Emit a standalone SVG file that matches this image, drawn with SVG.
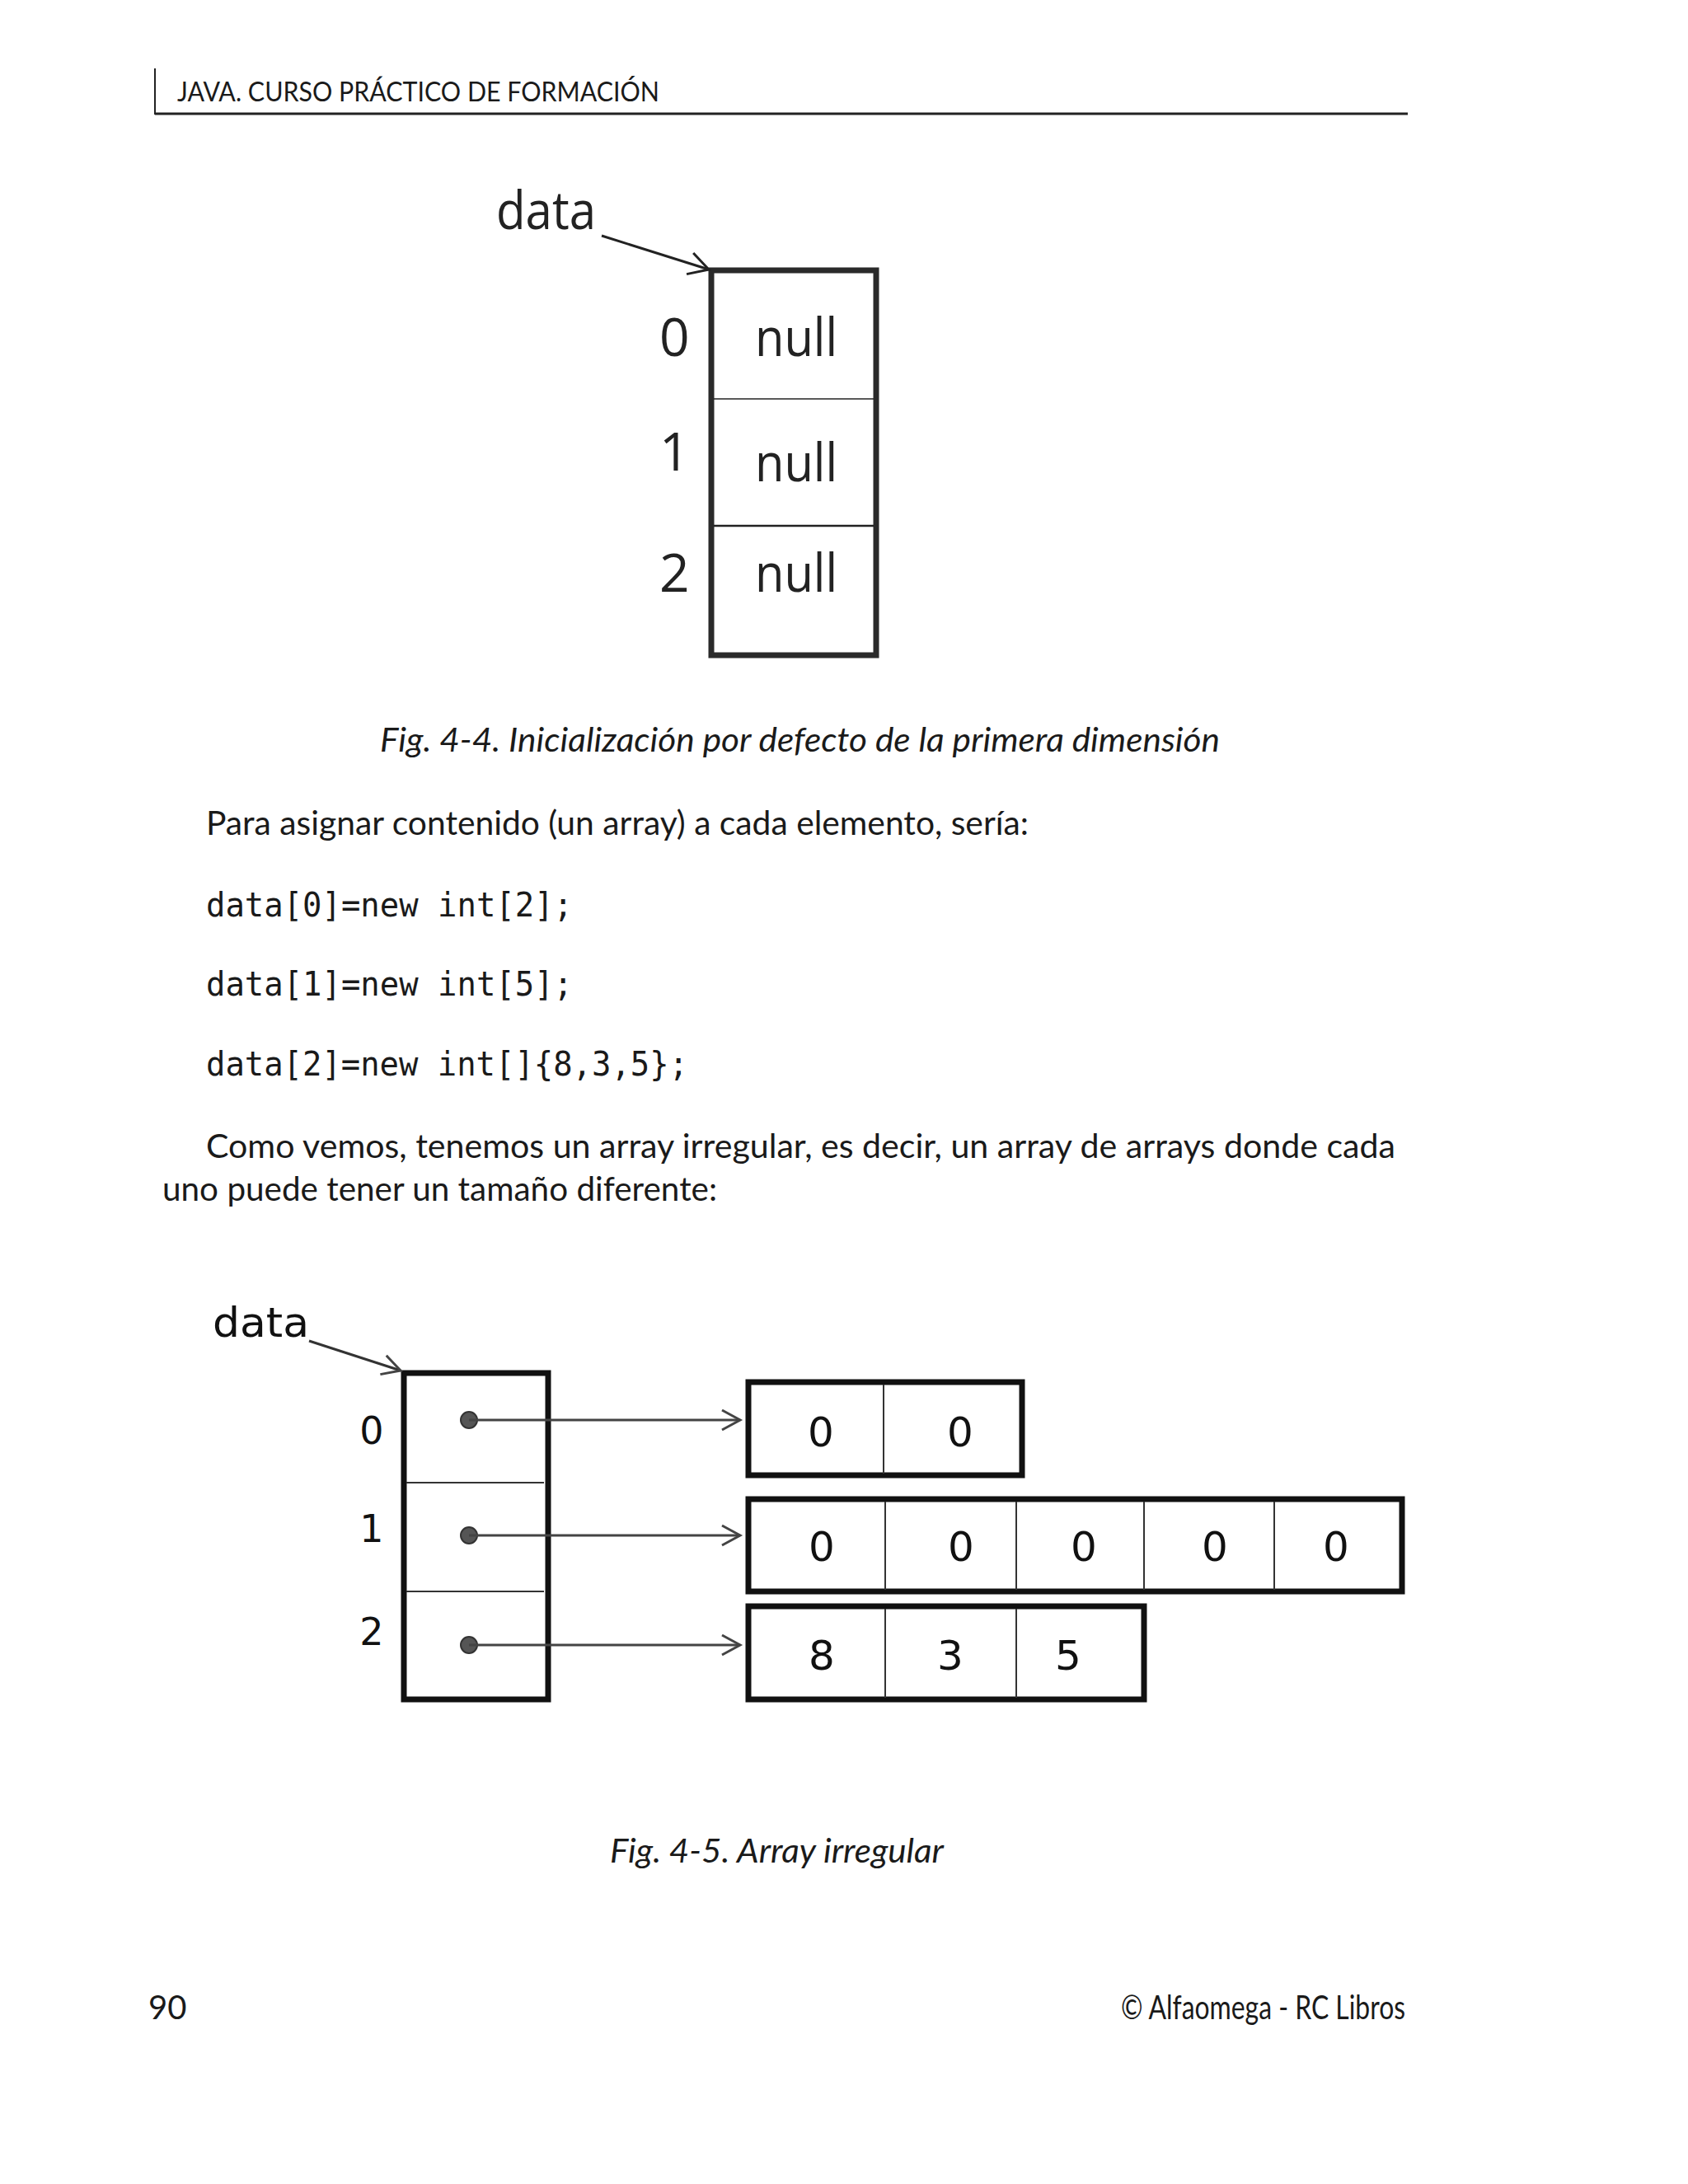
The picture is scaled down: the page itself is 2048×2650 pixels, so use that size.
<svg xmlns="http://www.w3.org/2000/svg" width="2048" height="2650" viewBox="0 0 2048 2650">
<defs>
<style>
.hdr{font-family:Lato,"Open Sans",sans-serif;font-size:33px;fill:#1a1a1a}
.body{font-family:Lato,"Open Sans",sans-serif;font-size:40px;fill:#1a1a1a}
.cap{font-family:Lato,"Open Sans",sans-serif;font-size:40px;font-style:italic;fill:#1a1a1a}
.code{font-family:"DejaVu Sans Mono","Liberation Mono",monospace;font-size:40px;fill:#1a1a1a}
.f1{font-family:"Open Sans","Noto Sans",sans-serif;font-size:64px;fill:#222}
.f2{font-family:"DejaVu Sans",sans-serif;font-size:50px;fill:#111}
.idx2{font-family:"DejaVu Sans",sans-serif;font-size:46px;fill:#111;text-anchor:middle}
.dig{font-family:"DejaVu Sans",sans-serif;font-size:50px;fill:#111;text-anchor:middle}
.box1{fill:none;stroke:#2a2a2a;stroke-width:7}
.box2{fill:none;stroke:#111;stroke-width:7}
.cell{stroke:#333;stroke-width:2}
.ptr{stroke:#444;stroke-width:3;fill:none}
.dot{fill:#555;stroke:#333;stroke-width:2}
</style>
<marker id="ah1" markerUnits="userSpaceOnUse" markerWidth="40" markerHeight="40" viewBox="-30 -20 40 40" refX="0" refY="0" orient="auto">
<path d="M-24,-13.5 L0,0 L-24,13.5" fill="none" stroke="#222" stroke-width="3"/>
</marker>
<marker id="ah2" markerUnits="userSpaceOnUse" markerWidth="40" markerHeight="40" viewBox="-30 -20 40 40" refX="0" refY="0" orient="auto">
<path d="M-22,-12 L0,0 L-22,12" fill="none" stroke="#444" stroke-width="3"/>
</marker>
</defs>
<rect width="2048" height="2650" fill="#fff"/>

<g id="header">
<line x1="188" y1="83" x2="188" y2="139" stroke="#222" stroke-width="2"/>
<line x1="188" y1="138" x2="1708" y2="138" stroke="#222" stroke-width="3"/>
<text class="hdr" x="215" y="123" textLength="585" lengthAdjust="spacingAndGlyphs">JAVA. CURSO PRÁCTICO DE FORMACIÓN</text>
</g>

<g id="fig1">
<g id="fig1-label"><text class="f1" x="602" y="278" textLength="121" lengthAdjust="spacingAndGlyphs">data</text></g>
<g id="fig1-array">
<rect class="box1" x="863" y="328" width="200" height="467"/>
<line x1="866" y1="484" x2="1060" y2="484" stroke="#222" stroke-width="1.5"/>
<line x1="866" y1="638" x2="1060" y2="638" stroke="#222" stroke-width="2.5"/>
<text class="f1" x="800" y="432">0</text>
<text class="f1" x="800" y="571">1</text>
<text class="f1" x="800" y="718">2</text>
<text class="f1" x="916" y="432" textLength="100" lengthAdjust="spacingAndGlyphs">null</text>
<text class="f1" x="916" y="584" textLength="100" lengthAdjust="spacingAndGlyphs">null</text>
<text class="f1" x="916" y="718" textLength="100" lengthAdjust="spacingAndGlyphs">null</text>
</g>
</g>

<g id="text-block">
<text class="cap" x="461" y="912" textLength="1019" lengthAdjust="spacingAndGlyphs">Fig. 4-4. Inicialización por defecto de la primera dimensión</text>
<text class="body" x="250" y="1013" textLength="998" lengthAdjust="spacingAndGlyphs">Para asignar contenido (un array) a cada elemento, sería:</text>
<text class="code" x="250" y="1112" textLength="445" lengthAdjust="spacingAndGlyphs">data[0]=new int[2];</text>
<text class="code" x="250" y="1208" textLength="445" lengthAdjust="spacingAndGlyphs">data[1]=new int[5];</text>
<text class="code" x="250" y="1305" textLength="585" lengthAdjust="spacingAndGlyphs">data[2]=new int[]{8,3,5};</text>
<text class="body" x="250" y="1405" textLength="1443" lengthAdjust="spacingAndGlyphs">Como vemos, tenemos un array irregular, es decir, un array de arrays donde cada</text>
<text class="body" x="197" y="1457" textLength="673" lengthAdjust="spacingAndGlyphs">uno puede tener un tamaño diferente:</text>
</g>

<g id="fig2">
<g id="fig2-label"><text class="f2" x="258" y="1622" textLength="117" lengthAdjust="spacingAndGlyphs">data</text></g>
<g id="fig2-data">
<rect class="box2" x="490" y="1666" width="175" height="396"/>
<line class="cell" x1="493" y1="1799" x2="660" y2="1799" stroke-width="3"/>
<line class="cell" x1="493" y1="1931" x2="660" y2="1931" stroke-width="3"/>
<text class="idx2" x="451" y="1752">0</text>
<text class="idx2" x="451" y="1871">1</text>
<text class="idx2" x="451" y="1996">2</text>
<circle class="dot" cx="569" cy="1723" r="10"/>
<circle class="dot" cx="569" cy="1863" r="10"/>
<circle class="dot" cx="569" cy="1996" r="10"/>
</g>
<g id="row0">
<rect class="box2" x="908" y="1677" width="332" height="113" stroke-width="6"/>
<line class="cell" x1="1072" y1="1680" x2="1072" y2="1788"/>
<text class="dig" x="996" y="1755">0</text>
<text class="dig" x="1165" y="1755">0</text>
</g>
<g id="row1">
<rect class="box2" x="908" y="1819" width="793" height="112" stroke-width="6"/>
<line class="cell" x1="1074" y1="1822" x2="1074" y2="1929"/>
<line class="cell" x1="1233" y1="1822" x2="1233" y2="1929"/>
<line class="cell" x1="1388" y1="1822" x2="1388" y2="1929"/>
<line class="cell" x1="1546" y1="1822" x2="1546" y2="1929"/>
<text class="dig" x="997" y="1894">0</text>
<text class="dig" x="1166" y="1894">0</text>
<text class="dig" x="1315" y="1894">0</text>
<text class="dig" x="1474" y="1894">0</text>
<text class="dig" x="1621" y="1894">0</text>
</g>
<g id="row2">
<rect class="box2" x="908" y="1949" width="480" height="113" stroke-width="6"/>
<line class="cell" x1="1074" y1="1952" x2="1074" y2="2060"/>
<line class="cell" x1="1233" y1="1952" x2="1233" y2="2060"/>
<text class="dig" x="997" y="2026">8</text>
<text class="dig" x="1153" y="2026">3</text>
<text class="dig" x="1296" y="2026">5</text>
</g>
</g>

<g id="connectors">
<line x1="730" y1="286" x2="860" y2="327" stroke="#222" stroke-width="3" marker-end="url(#ah1)"/>
<line x1="375" y1="1627" x2="486" y2="1663" stroke="#333" stroke-width="3" marker-end="url(#ah2)"/>
<line class="ptr" x1="569" y1="1723" x2="898" y2="1723" marker-end="url(#ah2)"/>
<line class="ptr" x1="569" y1="1863" x2="898" y2="1863" marker-end="url(#ah2)"/>
<line class="ptr" x1="569" y1="1996" x2="898" y2="1996" marker-end="url(#ah2)"/>
</g>

<g id="footer">
<text class="cap" x="740" y="2260" textLength="405" lengthAdjust="spacingAndGlyphs">Fig. 4-5. Array irregular</text>
<text class="body" x="180" y="2450" font-size="44">90</text>
<text class="body" x="1360" y="2450" font-size="34" textLength="345" lengthAdjust="spacingAndGlyphs">© Alfaomega - RC Libros</text>
</g>
</svg>
